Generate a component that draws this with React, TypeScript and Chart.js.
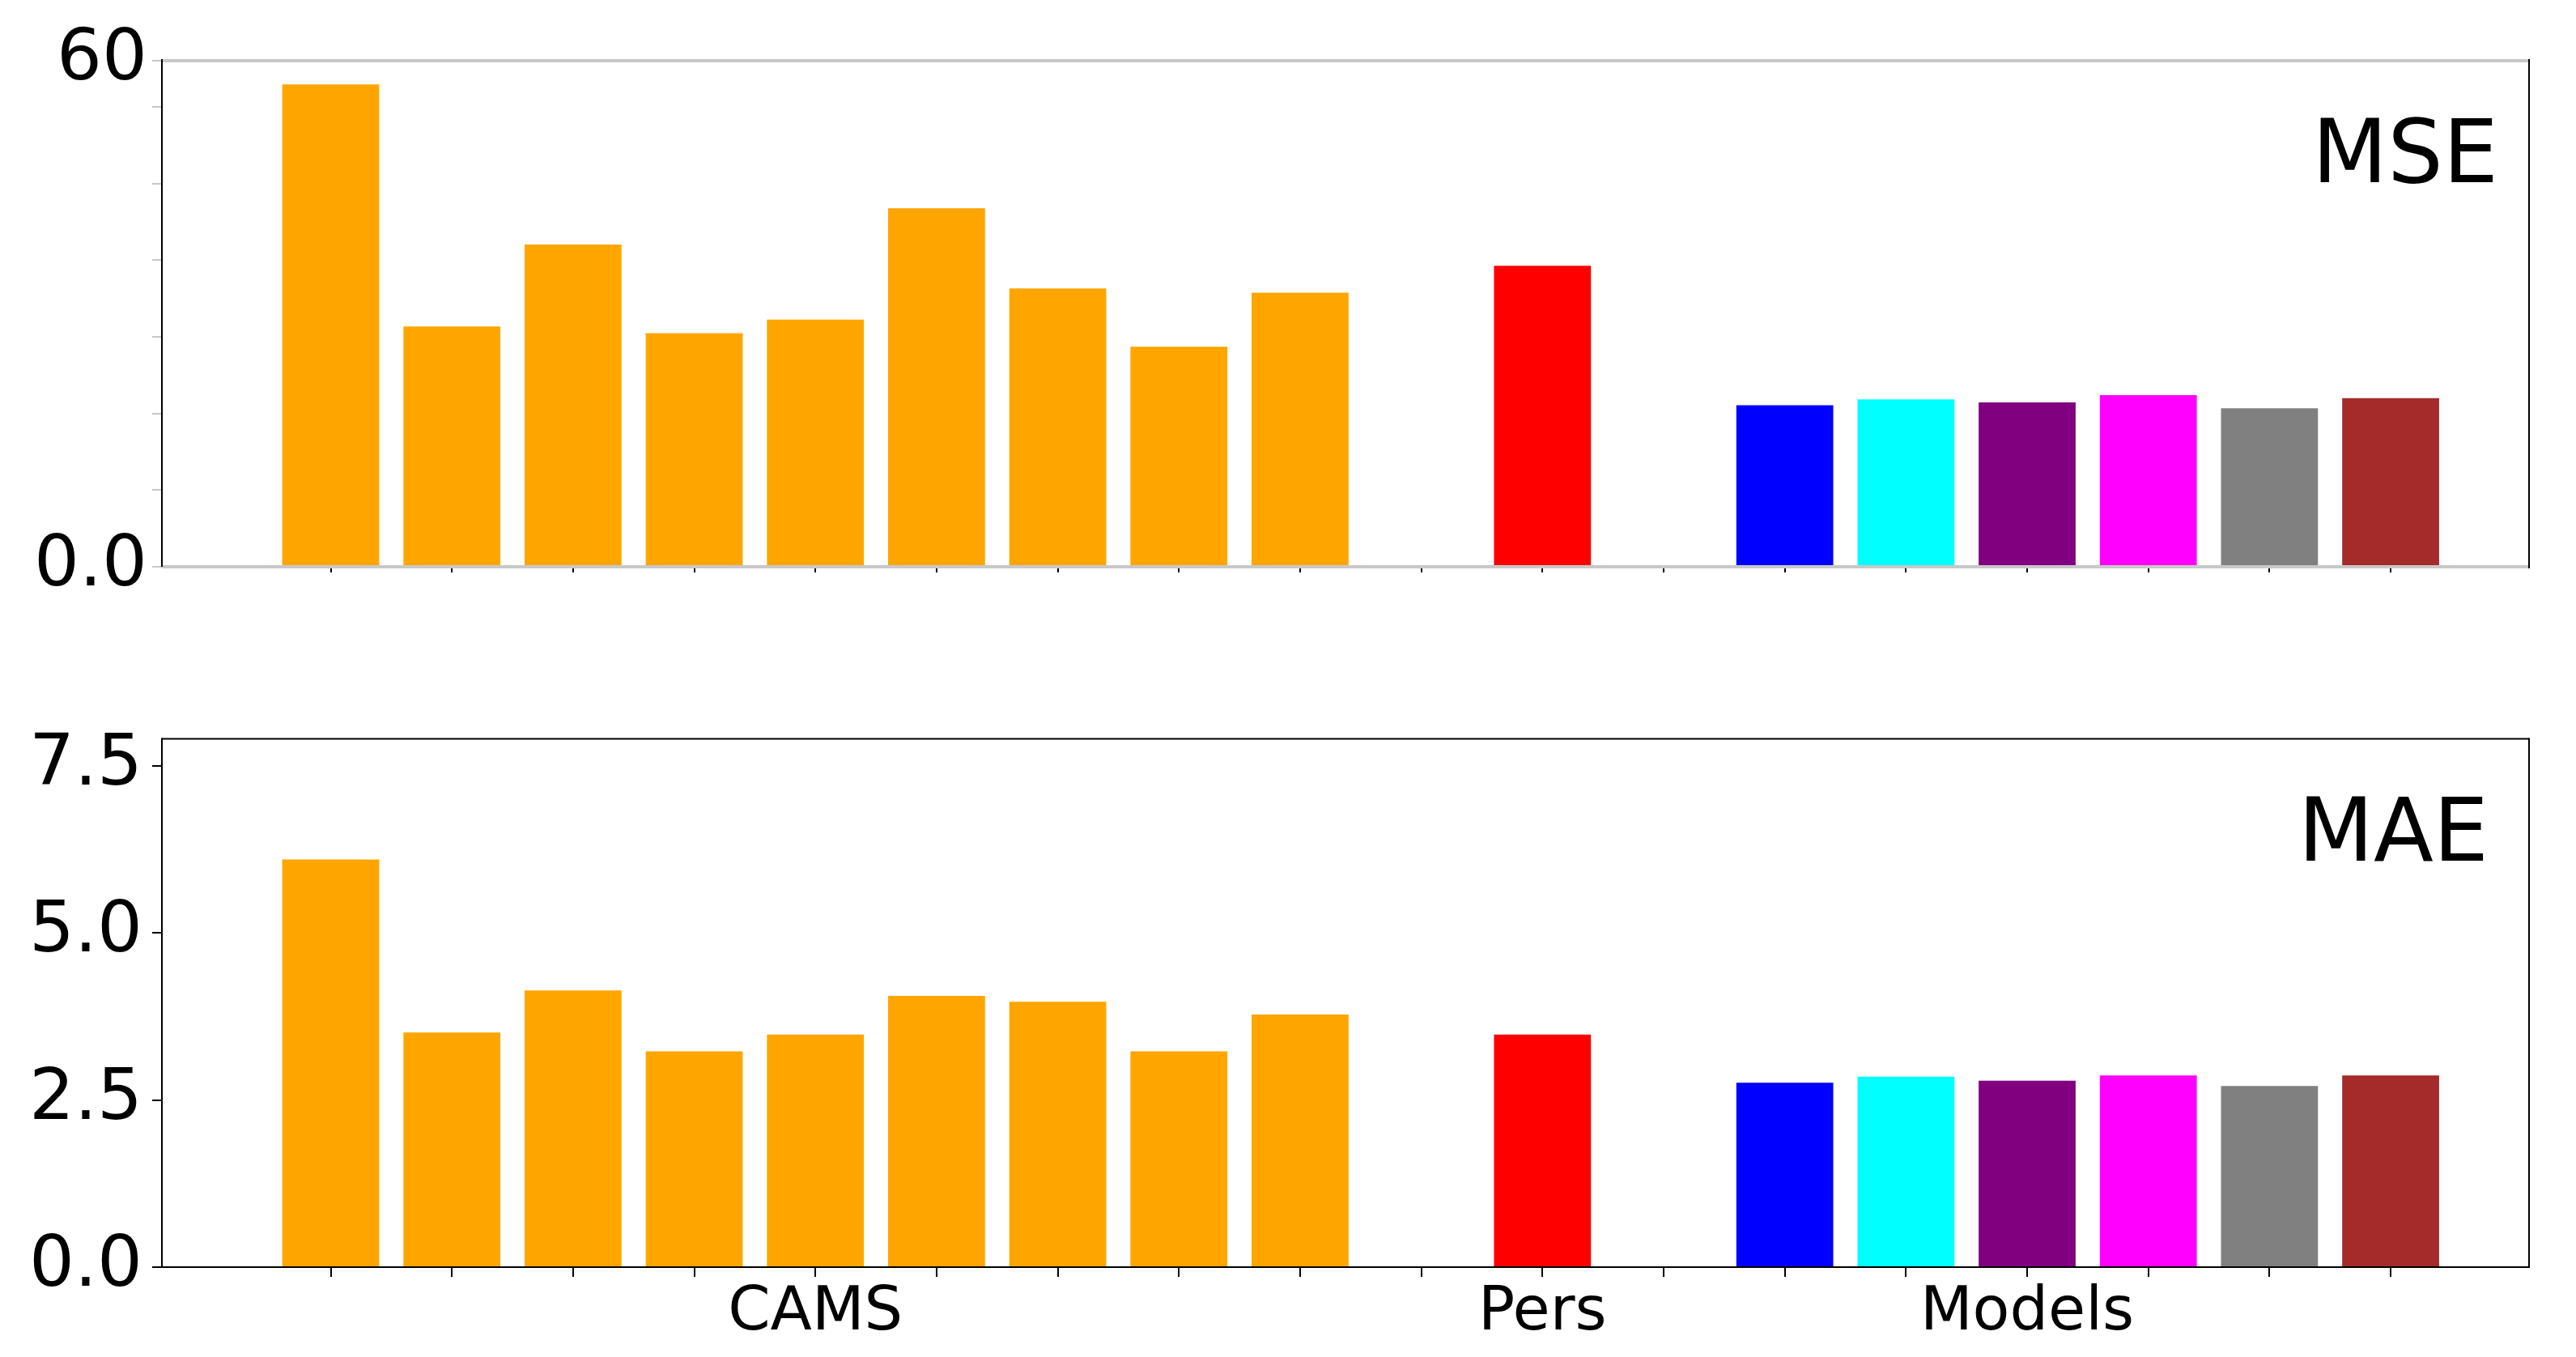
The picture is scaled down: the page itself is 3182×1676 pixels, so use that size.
import React, { useEffect, useRef } from 'react';
import { Chart, registerables } from 'chart.js';

Chart.register(...registerables);

// ---------- data ----------
const GROUP_NAMES = ['CAMS', 'Pers', 'Models'];
const X_TICK_LABELS = ['', '', '', '', 'CAMS', '', '', '', '', '', 'Pers', '', '', '', 'Models', '', '', ''];

const CAMS_COLORS = ['#FFA500', '#FFA500', '#FFA500', '#FFA500', '#FFA500', '#FFA500', '#FFA500', '#FFA500', '#FFA500'];
const PERS_COLORS = ['#FF0000'];
const MODEL_COLORS = ['#0000FF', '#00FFFF', '#800080', '#FF00FF', '#808080', '#A52A2A'];

const MSE_CAMS = [57.2, 28.5, 38.2, 27.7, 29.3, 42.5, 33.0, 26.1, 32.5];
const MSE_PERS = [35.7];
const MSE_MODELS = [19.15, 19.85, 19.5, 20.35, 18.8, 20.0];

const MAE_CAMS = [6.10, 3.51, 4.14, 3.23, 3.48, 4.06, 3.97, 3.23, 3.78];
const MAE_PERS = [3.48];
const MAE_MODELS = [2.76, 2.85, 2.79, 2.87, 2.71, 2.87];

const MSE_TICK_VALUES = [0, 9.085, 18.17, 27.26, 36.35, 45.44, 54.52, 60];
const MSE_TICK_LABELS = ['0.0', '', '', '', '', '', '', '60'];
const MAE_TICK_VALUES = [0, 2.5, 5, 7.5];
const MAE_TICK_LABELS = ['0.0', '2.5', '5.0', '7.5'];

const X_MIN = -1.393;
const X_MAX = 18.142;
const MSE_Y_MAX = 60;
const MAE_Y_MAX = 7.906;

const FONT = '"DejaVu Sans", sans-serif';
const LIGHT = '#c8c8c8';

// ---------- helpers ----------
function buildPoints(groups: number[][]) {
  const pts: { x: number; y: number }[] = [];
  let slot = 0;
  groups.forEach((vals) => {
    vals.forEach((v) => {
      pts.push({ x: slot, y: v });
      slot += 1;
    });
    slot += 1; // one empty slot between groups
  });
  return pts;
}

const framePlugin = {
  id: 'frame',
  afterDatasetsDraw(chart: any, _args: any, opts: any) {
    const { ctx, chartArea: a } = chart;
    const seg = (x1: number, y1: number, x2: number, y2: number, s: [string, number]) => {
      ctx.strokeStyle = s[0];
      ctx.lineWidth = s[1];
      ctx.beginPath();
      ctx.moveTo(x1, y1);
      ctx.lineTo(x2, y2);
      ctx.stroke();
    };
    ctx.save();
    seg(a.left, a.top, a.right, a.top, opts.top);
    seg(a.left, a.bottom, a.right, a.bottom, opts.bottom);
    seg(a.left, a.top - opts.top[1] / 2, a.left, a.bottom, opts.left);
    seg(a.right, a.top - opts.top[1] / 2, a.right, a.bottom + opts.bottom[1] / 2, opts.right);
    ctx.restore();
  },
};

const cornerTextPlugin = {
  id: 'cornerText',
  afterDraw(chart: any, _args: any, opts: any) {
    const { ctx, chartArea: a } = chart;
    ctx.save();
    ctx.font = `${opts.size}px ${FONT}`;
    ctx.fillStyle = '#000';
    ctx.textAlign = 'right';
    ctx.textBaseline = 'alphabetic';
    ctx.fillText(opts.text, a.right - opts.dx, a.top + opts.dy);
    ctx.restore();
  },
};

function makeConfig(p: any) {
  const points = buildPoints(p.groups);
  const colors = [...CAMS_COLORS, ...PERS_COLORS, ...MODEL_COLORS];
  return {
    type: 'bar',
    data: {
      datasets: [
        {
          label: p.name,
          data: points,
          backgroundColor: colors,
          borderWidth: 0,
          barPercentage: 0.8,
          categoryPercentage: 1.0,
        },
      ],
    },
    plugins: [framePlugin, cornerTextPlugin],
    options: {
      animation: false,
      responsive: false,
      maintainAspectRatio: false,
      devicePixelRatio: 1,
      layout: { padding: { top: p.padTop, left: 0, right: 58, bottom: 0 } },
      plugins: {
        legend: { display: false },
        tooltip: { enabled: false },
        title: { display: false },
        frame: p.frame,
        cornerText: { text: p.name, size: 108, dx: p.textDx, dy: 150 },
      },
      scales: {
        x: {
          type: 'linear',
          min: X_MIN,
          max: X_MAX,
          offset: false,
          afterBuildTicks: (scale: any) => {
            scale.ticks = X_TICK_LABELS.map((_, i) => ({ value: i }));
          },
          afterFit: (scale: any) => {
            scale.height = p.xAxisHeight;
          },
          border: { display: false },
          grid: {
            offset: false,
            drawOnChartArea: false,
            drawTicks: true,
            tickLength: p.xTickLen,
            color: '#000',
            tickColor: '#000',
            lineWidth: 2,
          },
          ticks: {
            autoSkip: false,
            maxRotation: 0,
            minRotation: 0,
            padding: 8,
            color: '#000',
            font: { family: FONT, size: 75, lineHeight: 1 },
            callback: (_v: any, i: number) => (p.showXLabels ? X_TICK_LABELS[i] : ''),
          },
        },
        y: {
          type: 'linear',
          min: 0,
          max: p.yMax,
          afterBuildTicks: (scale: any) => {
            scale.ticks = p.tickValues.map((v: number) => ({ value: v }));
          },
          afterFit: (scale: any) => {
            scale.width = 200;
          },
          border: { display: false },
          grid: {
            drawOnChartArea: false,
            drawTicks: true,
            tickLength: 12,
            color: p.yTickColor,
            tickColor: p.yTickColor,
            lineWidth: 2,
          },
          ticks: {
            autoSkip: false,
            padding: p.yPad,
            color: '#000',
            font: { family: FONT, size: 88, lineHeight: 1.2 },
            callback: (_v: any, i: number) => p.tickLabels[i],
          },
        },
      },
    },
  };
}

function Panel(props: { config: any; top: number; height: number }) {
  const ref = useRef<HTMLCanvasElement | null>(null);
  useEffect(() => {
    if (!ref.current) return;
    const chart = new Chart(ref.current, props.config);
    return () => chart.destroy();
  }, []);
  return (
    <canvas
      ref={ref}
      width={3182}
      height={props.height}
      style={{ position: 'absolute', left: 0, top: props.top, width: 3182, height: props.height, display: 'block' }}
    />
  );
}

export default function App() {
  const mseConfig = makeConfig({
    name: 'MSE',
    groups: [MSE_CAMS, MSE_PERS, MSE_MODELS],
    yMax: MSE_Y_MAX,
    tickValues: MSE_TICK_VALUES,
    tickLabels: MSE_TICK_LABELS,
    padTop: 75,
    xAxisHeight: 80,
    xTickLen: 7,
    yTickColor: LIGHT,
    yPad: 6,
    showXLabels: false,
    textDx: 38,
    frame: { top: [LIGHT, 4], bottom: [LIGHT, 4], left: ['#000', 2], right: ['#000', 2] },
  });
  const maeConfig = makeConfig({
    name: 'MAE',
    groups: [MAE_CAMS, MAE_PERS, MAE_MODELS],
    yMax: MAE_Y_MAX,
    tickValues: MAE_TICK_VALUES,
    tickLabels: MAE_TICK_LABELS,
    padTop: 132.5,
    xAxisHeight: 111,
    xTickLen: 12,
    yTickColor: '#000',
    yPad: 12,
    showXLabels: true,
    textDx: 50,
    frame: { top: ['#000', 2], bottom: ['#000', 2], left: ['#000', 2], right: ['#000', 2] },
  });
  return (
    <div style={{ position: 'absolute', left: 0, top: 0, width: 3182, height: 1676, background: '#fff' }}>
      <Panel config={mseConfig} top={0} height={780} />
      <Panel config={maeConfig} top={780} height={896} />
    </div>
  );
}
